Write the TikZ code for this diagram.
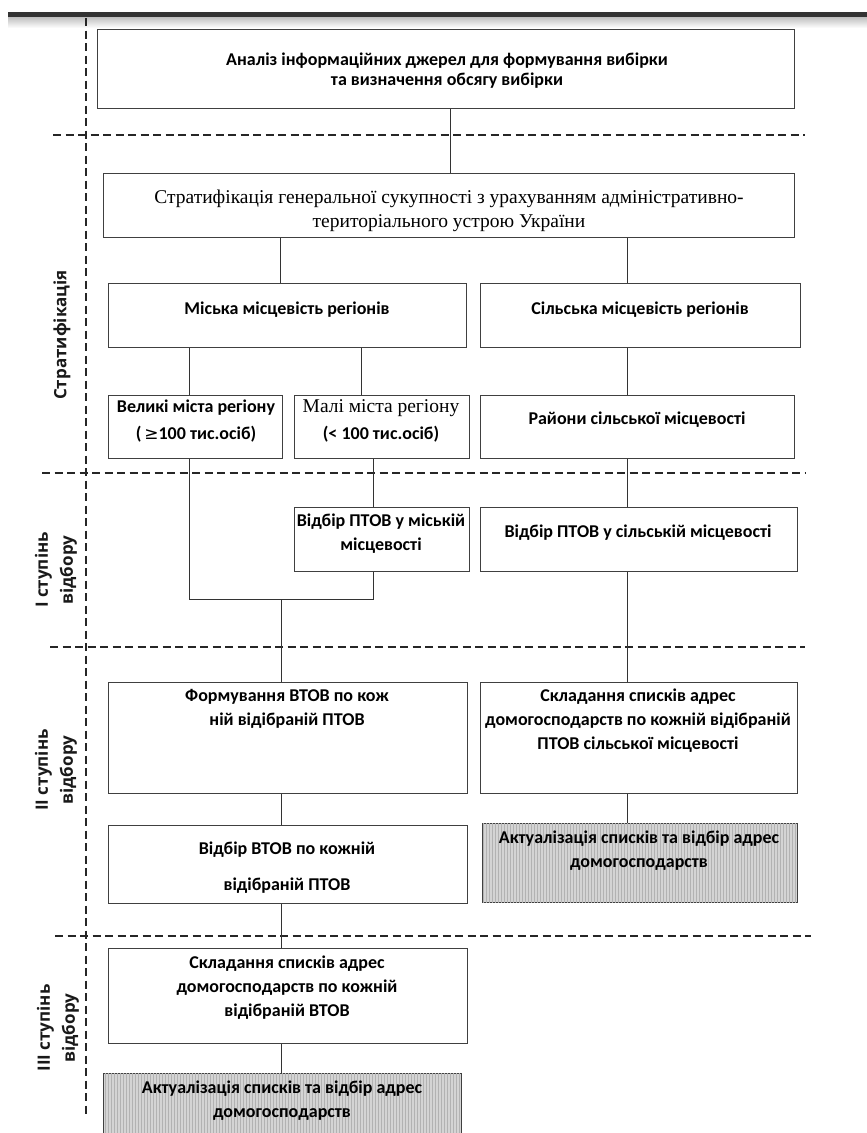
\documentclass[tikz,border=0pt]{standalone}
\usepackage{fontspec}
\setmainfont{Carlito}
\newfontfamily\tms{Liberation Serif}
\newfontfamily\sidefont{Open Sans}
\newfontfamily\symf{DejaVu Sans}
\usetikzlibrary{patterns}
\tikzset{
  box/.style={draw=black!75, line width=1.1pt, inner sep=0pt, anchor=north west},
  graybox/.style={box, fill=black!17, postaction={pattern=vertical lines, pattern color=black!30}},
  txt/.style={align=center, font=\bfseries\fontsize{18}{24}\selectfont, text=black, inner sep=0pt},
  serif/.style={align=center, font=\tms\fontsize{19.5}{24}\selectfont, text=black, inner sep=0pt},
  link/.style={draw=black!80, line width=0.9pt},
  sep/.style={draw=black!85, line width=2.5pt, dash pattern=on 8pt off 4.5pt},
  side/.style={rotate=90, align=center, font=\sidefont\bfseries\fontsize{17}{25}\selectfont, text=black!90, inner sep=0pt}
}
\begin{document}
\begin{tikzpicture}[x=1pt, y=-1pt]
\useasboundingbox (0,0) rectangle (867,1133);
\clip (0,0) rectangle (867,1133);
\fill[white] (0,0) rectangle (867,1133);
% top bar
\fill[black!80] (8,12) rectangle (867,17);
\shade[top color=black!25, bottom color=white] (8,17) rectangle (867,28);

% separators
\draw[sep] (86,18) -- (86,1117);
\draw[sep] (53,135) -- (805,135);
\draw[sep] (42,473) -- (805,473);
\draw[sep] (50,647) -- (805,647);
\draw[sep] (55,936) -- (811,936);

% side labels
\node[side] (s1) at (62,335) {Стратифікація};
\node[side] (s2) at (56,570) {I ступінь\\відбору};
\node[side] (s3) at (56,770) {II ступінь\\відбору};
\node[side] (s4) at (58,1028) {III ступінь\\відбору};

% boxes
\node[box, minimum width=697pt, minimum height=79pt] (b1) at (97,29) {};
\node[box, minimum width=691pt, minimum height=64pt] (b2) at (103,173) {};
\node[box, minimum width=358pt, minimum height=64pt] (b3) at (108,283) {};
\node[box, minimum width=320pt, minimum height=64pt] (b4) at (480,283) {};
\node[box, minimum width=174pt, minimum height=63pt] (b5) at (108,395) {};
\node[box, minimum width=175pt, minimum height=63pt] (b6) at (294,395) {};
\node[box, minimum width=314pt, minimum height=63pt] (b7) at (480,395) {};
\node[box, minimum width=175pt, minimum height=64pt] (b8) at (294,507) {};
\node[box, minimum width=317pt, minimum height=64pt] (b9) at (480,507) {};
\node[box, minimum width=359pt, minimum height=111pt] (b10) at (108,682) {};
\node[box, minimum width=317pt, minimum height=111pt] (b11) at (480,682) {};
\node[box, minimum width=359pt, minimum height=78pt] (b12) at (108,825) {};
\node[graybox, minimum width=315pt, minimum height=79pt] (b13) at (482,823) {};
\node[box, minimum width=359pt, minimum height=95pt] (b14) at (108,948) {};
\node[graybox, minimum width=358pt, minimum height=80pt] (b15) at (103,1073) {};

% texts
\node[txt, font=\bfseries\fontsize{18}{20}\selectfont] (t1) at (447,71) {Аналіз інформаційних джерел для формування вибірки\\та визначення обсягу вибірки};
\node[serif] (t2) at (449,211) {Стратифікація генеральної сукупності з урахуванням адміністративно-\\територіального устрою України};
\node[txt] (t3) at (287,310) {Міська місцевість регіонів};
\node[txt] (t4) at (640,310) {Сільська місцевість регіонів};
\node[txt, font=\bfseries\fontsize{18}{27}\selectfont] (t5) at (196,421) {Великі міста регіону\\(\,{\symf\mdseries\fontsize{17}{27}\selectfont ≥}100 тис.осіб)};
\node[txt, font=\fontsize{18}{27}\selectfont] (t6) at (381,421) {{\tms\fontsize{19.5}{27}\selectfont Малі міста регіону}\\{\bfseries (< 100 тис.осіб)}};
\node[txt] (t7) at (637,420) {Райони сільської місцевості};
\node[txt] (t8) at (381,534) {Відбір ПТОВ у міській\\місцевості};
\node[txt] (t9) at (638,533) {Відбір ПТОВ у сільській місцевості};
\node[txt] (t10) at (287,709) {Формування ВТОВ по кож\\ній відібраній ПТОВ};
\node[txt] (t11) at (638,721) {Складання списків адрес\\домогосподарств по кожній відібраній\\ПТОВ сільської місцевості};
\node[txt, font=\bfseries\fontsize{18}{36}\selectfont] (t12) at (287,868) {Відбір ВТОВ по кожній\\відібраній ПТОВ};
\node[txt] (t13) at (639,851) {Актуалізація списків та відбір адрес\\домогосподарств};
\node[txt] (t14) at (287,988) {Складання списків адрес\\домогосподарств по кожній\\відібраній ВТОВ};
\node[txt] (t15) at (282,1101) {Актуалізація списків та відбір адрес\\домогосподарств};

% connector columns
\coordinate (xA) at (450,0);
\coordinate (xT) at (280,0);
\coordinate (xR) at (627,0);
\coordinate (xL) at (189,0);
\coordinate (xS) at (373,0);
\coordinate (xm) at (361,0);
\coordinate (xM) at (281,0);
\coordinate (jl) at (189,599);
\coordinate (jr) at (373,599);
\coordinate (jm) at (281,599);

\draw[link] (b1.south -| xA) -- (b2.north -| xA);
\draw[link] (b2.south -| xT) -- (b3.north -| xT);
\draw[link] (b2.south -| xR) -- (b4.north -| xR);
\draw[link] (b3.south -| xL) -- (b5.north -| xL);
\draw[link] (b3.south -| xm) -- (b6.north -| xm);
\draw[link] (b4.south -| xR) -- (b7.north -| xR);
\draw[link] (b6.south -| xS) -- (b8.north -| xS);
\draw[link] (b7.south -| xR) -- (b9.north -| xR);
\draw[link] (b5.south -| xL) -- (jl) -- (jr) -- (b8.south -| xS);
\draw[link] (jm) -- (b10.north -| jm);
\draw[link] (b9.south -| xR) -- (b11.north -| xR);
\draw[link] (b10.south -| xM) -- (b12.north -| xM);
\draw[link] (b11.south -| xR) -- (b13.north -| xR);
\draw[link] (b12.south -| xM) -- (b14.north -| xM);
\draw[link] (b14.south -| xM) -- (b15.north -| xM);
\end{tikzpicture}
\end{document}
